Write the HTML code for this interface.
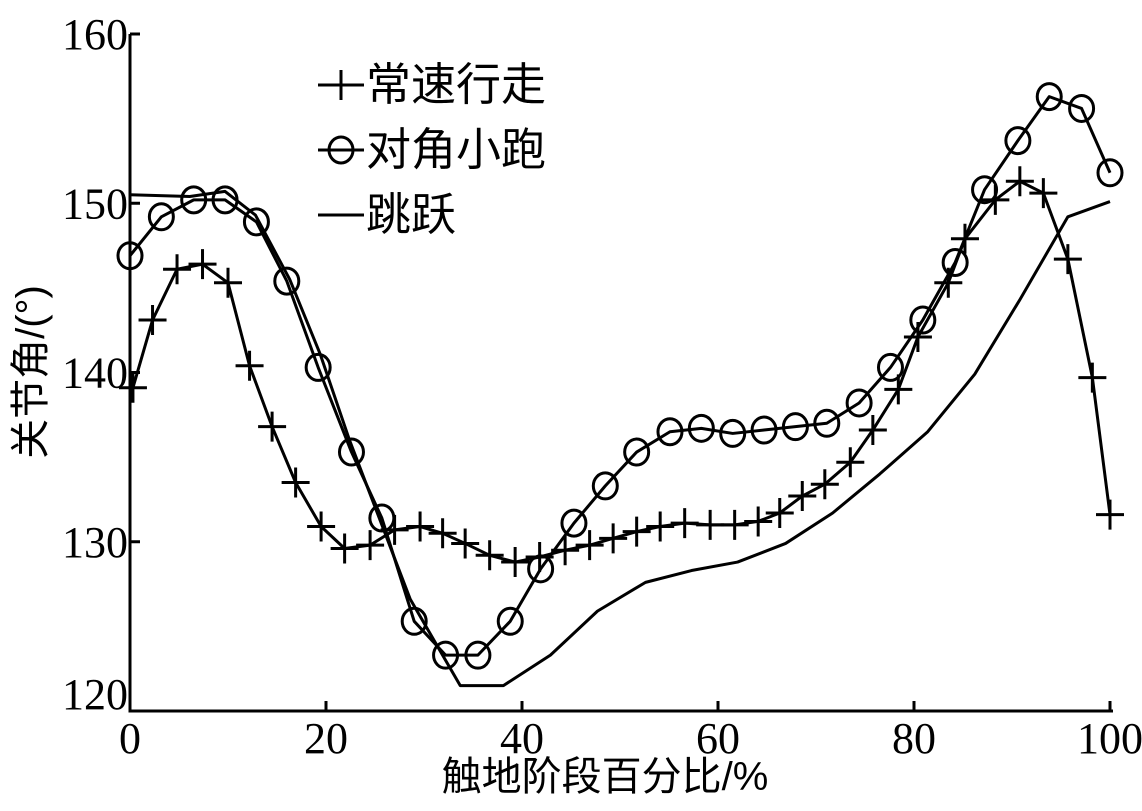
<!DOCTYPE html>
<html><head><meta charset="utf-8"><style>
body{margin:0;background:#fff}
svg text{font-family:"Liberation Serif","Noto Serif CJK SC",serif;fill:#000}
</style></head><body>
<svg id="chart" width="1142" height="806" viewBox="0 0 1142 806" xmlns="http://www.w3.org/2000/svg">
<g id="axes"></g>
<g id="series"></g>
<g id="legend"></g>
<text transform="translate(44,372) rotate(-90)" text-anchor="middle" font-size="40" style="font-family:'Liberation Sans','Noto Sans CJK SC',sans-serif">关节角/(°)</text>
<text x="605" y="790" text-anchor="middle" font-size="40" style="font-family:'Liberation Sans','Noto Sans CJK SC',sans-serif">触地阶段百分比/%</text>
</svg>
<script>
const xTicks=[0,20,40,60,80,100];
const yTicks=[120,130,140,150,160];
const walkX=[0.3,2.3,4.8,7.4,10,12.2,14.5,16.9,19.5,21.9,24.5,27,29.6,31.9,34.2,36.7,39.3,41.8,44.4,46.9,49.3,51.7,54.1,56.6,59.2,61.7,64.1,66.3,68.6,70.9,73.5,75.8,78.4,80.4,83.5,85.2,88.3,90.8,93.2,95.7,98.2,100];
const walkY=[139.1,143.1,146.1,146.4,145.3,140.4,136.8,133.5,130.9,129.6,129.8,130.7,130.9,130.5,129.9,129.2,128.8,129.1,129.5,129.8,130.2,130.6,130.9,131.1,131.0,131.0,131.2,131.7,132.7,133.4,134.7,136.6,139.0,142.1,145.3,147.9,150.2,151.3,150.6,146.7,139.7,131.6];
const trotX=[0,3.2,6.5,9.7,12.9,16,19.2,22.6,25.7,29,32.2,35.5,38.8,41.9,45.3,48.5,51.7,55.1,58.3,61.5,64.7,67.9,71.1,74.4,77.6,80.9,84.2,87.2,90.6,93.8,97.1,100];
const trotY=[146.9,149.2,150.2,150.2,148.9,145.4,140.3,135.3,131.4,125.3,123.3,123.3,125.3,128.4,131.1,133.3,135.3,136.5,136.7,136.4,136.6,136.8,137.0,138.2,140.3,143.1,146.5,150.8,153.7,156.3,155.6,151.8];
const jumpX=[0,6.1,9.7,12.8,16.3,19.4,22.4,25.5,28.6,31.6,33.7,38.1,42.9,47.7,52.6,57.3,62,66.9,71.7,76.5,81.4,86.2,90.8,95.7,100];
const jumpY=[150.5,150.4,150.7,149.3,145.5,141.1,136,131.3,126.6,123.6,121.5,121.5,123.3,125.9,127.6,128.3,128.8,129.9,131.7,134.0,136.5,139.9,144.3,149.2,150.1];
const legendLabels=["常速行走","对角小跑","跳跃"];
const NS="http://www.w3.org/2000/svg";
const X0=130,X1=1110,Y0=711,Y1=34;
function sx(u){return X0+(u-0)/(100-0)*(X1-X0);}
function sy(v){return Y0-(v-120)/(160-120)*(Y0-Y1);}
function mk(tag,attrs,parent){const e=document.createElementNS(NS,tag);for(const k in attrs)e.setAttribute(k,attrs[k]);parent.appendChild(e);return e;}
const axes=document.getElementById('axes');
let a=mk('path',{d:`M${X0},${Y1} V${Y0} H${X1+3}`,fill:'none',stroke:'#000','stroke-width':3},axes);


xTicks.forEach(t=>{
  const l=mk('line',{x1:sx(t),x2:sx(t),y1:Y0,y2:Y0-10,stroke:'#000','stroke-width':3},axes);
  
  
  const tx=mk('text',{x:sx(t),y:Y0+42,'text-anchor':'middle','font-size':44},axes);
  tx.textContent=t;
  
  
});
yTicks.forEach(t=>{
  if(t!==120){const l=mk('line',{x1:X0,x2:X0+10,y1:sy(t),y2:sy(t),stroke:'#000','stroke-width':3},axes);
  
  }
  const tx=mk('text',{x:X0-2,y:sy(t)+(t===120?-2:15),'text-anchor':'end','font-size':44},axes);
  tx.textContent=t;
  
  
});
const ser=document.getElementById('series');
function line(xs,ys,name){
  const p=mk('polyline',{points:xs.map((x,i)=>sx(x)+','+sy(ys[i])).join(' '),fill:'none',stroke:'#000','stroke-width':3,'stroke-linejoin':'round'},ser);
  
  
}
function plus(cx,cy,parent){
  const p=mk('path',{d:`M${cx-14},${cy} H${cx+14} M${cx},${cy-15} V${cy+15}`,stroke:'#000','stroke-width':3,fill:'none'},parent);
  
  
}
function circ(cx,cy,parent){
  const c=mk('ellipse',{cx:cx,cy:cy,rx:12,ry:13,stroke:'#000','stroke-width':3,fill:'none'},parent);
  
  
}
line(jumpX,jumpY,'jump-line');
line(walkX,walkY,'walk-line');
line(trotX,trotY,'trot-line');
walkX.forEach((x,i)=>plus(sx(x),sy(walkY[i]),ser));
trotX.forEach((x,i)=>circ(sx(x),sy(trotY[i]),ser));
const lg=document.getElementById('legend');
const ly=[85,150,215];
legendLabels.forEach((lab,i)=>{
  const g=mk('g',{},lg);
  
  
  const ln=mk('line',{x1:318,x2:364,y1:ly[i],y2:ly[i],stroke:'#000','stroke-width':3},g);
  if(i===0)plus(341,ly[i],g);
  if(i===1)circ(341,ly[i],g);
  const t=mk('text',{x:366,y:ly[i]+15,'font-size':45,style:"font-family:'Liberation Sans','Noto Sans CJK SC',sans-serif"},g);
  t.textContent=lab;
});
</script>
</body></html>
